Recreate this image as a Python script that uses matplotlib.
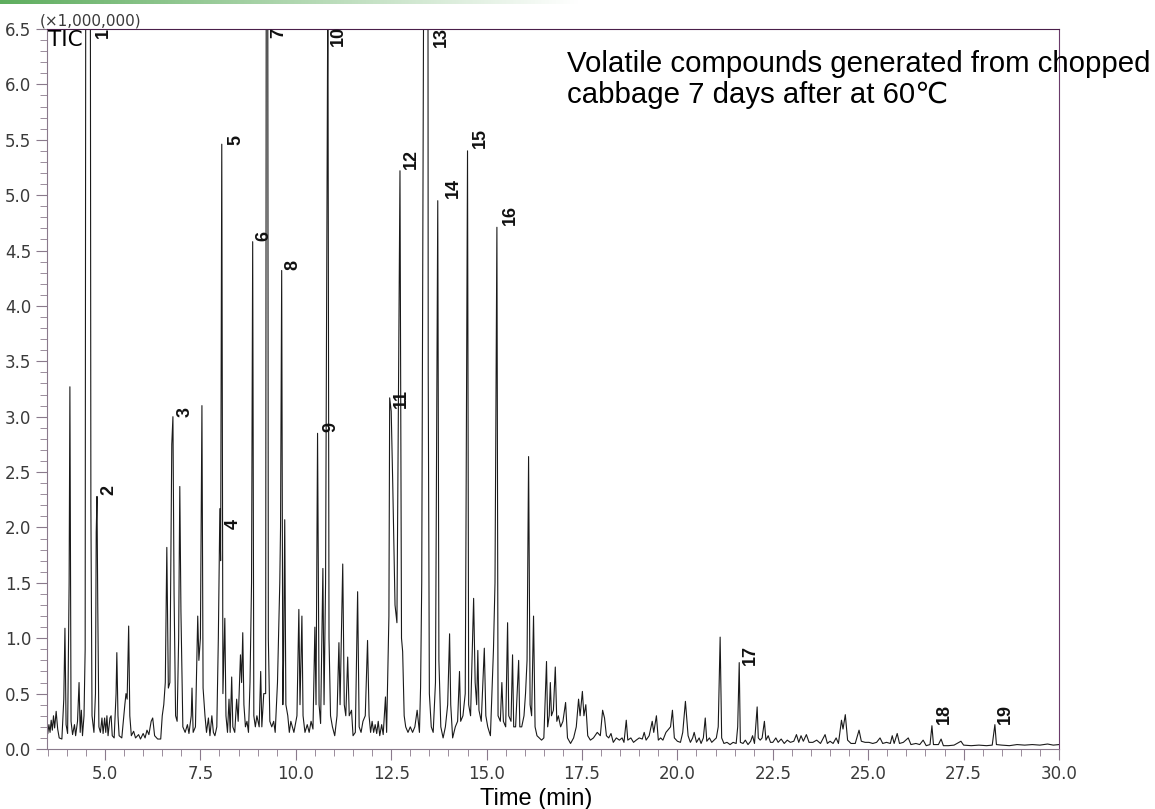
import numpy as np
import matplotlib
matplotlib.use("Agg")
import matplotlib.pyplot as plt
from matplotlib.ticker import MultipleLocator

# TIC trace: retention time (min) and intensity (x1,000,000)
trace_time = [
    3.50, 3.53, 3.56, 3.59, 3.62, 3.65, 3.68, 3.72, 3.76, 3.80, 3.87, 3.92, 3.95, 3.98,
    4.02, 4.06, 4.08, 4.11, 4.15, 4.20, 4.23, 4.28, 4.32, 4.35, 4.38, 4.41, 4.45, 4.48,
    4.50, 4.61, 4.63, 4.66, 4.71, 4.75, 4.77, 4.79, 4.81, 4.84, 4.88, 4.92, 4.95, 4.99,
    5.02, 5.05, 5.08, 5.13, 5.16, 5.19, 5.24, 5.29, 5.31, 5.34, 5.37, 5.44, 5.52, 5.55,
    5.58, 5.62, 5.65, 5.69, 5.75, 5.80, 5.88, 5.93, 6.00, 6.05, 6.10, 6.15, 6.21, 6.25,
    6.30, 6.38, 6.46, 6.50, 6.54, 6.58, 6.62, 6.66, 6.70, 6.75, 6.78, 6.81, 6.85, 6.89,
    6.93, 6.96, 6.99, 7.04, 7.10, 7.16, 7.20, 7.26, 7.28, 7.31, 7.37, 7.41, 7.43, 7.46,
    7.50, 7.54, 7.57, 7.62, 7.66, 7.71, 7.75, 7.80, 7.84, 7.88, 7.93, 7.97, 8.01, 8.03,
    8.06, 8.09, 8.14, 8.17, 8.21, 8.25, 8.28, 8.32, 8.35, 8.40, 8.45, 8.49, 8.55, 8.58,
    8.61, 8.64, 8.68, 8.72, 8.76, 8.80, 8.84, 8.87, 8.90, 8.94, 8.98, 9.04, 9.08, 9.11,
    9.16, 9.21, 9.23, 9.26, 9.28, 9.32, 9.37, 9.42, 9.46, 9.52, 9.58, 9.60, 9.63, 9.66,
    9.68, 9.71, 9.74, 9.79, 9.83, 9.87, 9.91, 9.95, 10.03, 10.08, 10.11, 10.16, 10.19, 10.24,
    10.30, 10.35, 10.40, 10.45, 10.50, 10.53, 10.57, 10.61, 10.65, 10.71, 10.74, 10.78, 10.84, 10.87,
    10.91, 10.96, 11.02, 11.08, 11.13, 11.16, 11.23, 11.27, 11.31, 11.36, 11.40, 11.46, 11.50, 11.56,
    11.62, 11.66, 11.71, 11.76, 11.82, 11.88, 11.92, 11.96, 12.00, 12.04, 12.08, 12.12, 12.16, 12.20,
    12.25, 12.29, 12.35, 12.38, 12.44, 12.46, 12.50, 12.54, 12.60, 12.65, 12.73, 12.77, 12.80, 12.84,
    12.88, 12.94, 13.00, 13.06, 13.12, 13.18, 13.24, 13.27, 13.30, 13.33, 13.37, 13.46, 13.47, 13.50,
    13.55, 13.60, 13.66, 13.72, 13.75, 13.80, 13.86, 13.92, 13.98, 14.03, 14.06, 14.11, 14.18, 14.24,
    14.29, 14.32, 14.38, 14.44, 14.46, 14.50, 14.53, 14.58, 14.66, 14.70, 14.74, 14.77, 14.80, 14.86,
    14.94, 14.98, 15.03, 15.10, 15.18, 15.22, 15.27, 15.30, 15.36, 15.40, 15.44, 15.50, 15.55, 15.58,
    15.64, 15.68, 15.71, 15.76, 15.84, 15.87, 15.92, 15.98, 16.02, 16.06, 16.10, 16.14, 16.18, 16.23,
    16.27, 16.32, 16.38, 16.44, 16.50, 16.57, 16.60, 16.64, 16.67, 16.70, 16.75, 16.80, 16.84, 16.88,
    16.94, 17.00, 17.07, 17.12, 17.20, 17.28, 17.35, 17.41, 17.45, 17.51, 17.55, 17.60, 17.65, 17.72,
    17.80, 17.90, 17.98, 18.04, 18.09, 18.14, 18.20, 18.26, 18.32, 18.40, 18.48, 18.55, 18.60, 18.66,
    18.70, 18.78, 18.85, 18.92, 19.00, 19.08, 19.13, 19.18, 19.26, 19.34, 19.38, 19.45, 19.50, 19.56,
    19.62, 19.70, 19.82, 19.87, 19.92, 20.00, 20.08, 20.14, 20.21, 20.24, 20.28, 20.34, 20.40, 20.44,
    20.50, 20.57, 20.62, 20.68, 20.73, 20.77, 20.84, 20.90, 20.96, 21.02, 21.07, 21.12, 21.16, 21.22,
    21.30, 21.38, 21.46, 21.54, 21.58, 21.62, 21.65, 21.72, 21.78, 21.85, 21.92, 21.97, 22.02, 22.09,
    22.12, 22.17, 22.22, 22.28, 22.32, 22.38, 22.44, 22.50, 22.58, 22.64, 22.72, 22.80, 22.88, 22.96,
    23.05, 23.12, 23.18, 23.24, 23.30, 23.38, 23.45, 23.55, 23.65, 23.75, 23.87, 23.93, 24.00, 24.08,
    24.16, 24.22, 24.30, 24.34, 24.40, 24.46, 24.55, 24.66, 24.76, 24.82, 24.92, 25.02, 25.12, 25.22,
    25.31, 25.38, 25.48, 25.58, 25.63, 25.68, 25.76, 25.82, 25.92, 26.05, 26.12, 26.25, 26.35, 26.44,
    26.52, 26.62, 26.67, 26.71, 26.84, 26.91, 26.97, 27.10, 27.25, 27.43, 27.50, 27.70, 27.90, 28.10,
    28.25, 28.32, 28.36, 28.50, 28.70, 28.90, 29.10, 29.30, 29.50, 29.70, 29.85, 30.00,
]
trace_signal = [
    0.14, 0.22, 0.15, 0.26, 0.17, 0.30, 0.19, 0.34, 0.18, 0.10, 0.09, 0.45, 1.09, 0.22,
    0.14, 1.50, 3.27, 0.25, 0.13, 0.22, 0.12, 0.25, 0.60, 0.15, 0.35, 0.12, 0.30, 0.90,
    9.00, 9.00, 2.20, 0.30, 0.15, 0.50, 1.96, 2.28, 1.30, 0.20, 0.15, 0.28, 0.14, 0.28,
    0.15, 0.30, 0.12, 0.28, 0.30, 0.12, 0.10, 0.50, 0.87, 0.30, 0.12, 0.10, 0.40, 0.50,
    0.45, 1.11, 0.30, 0.12, 0.16, 0.10, 0.13, 0.09, 0.14, 0.10, 0.17, 0.13, 0.25, 0.28,
    0.12, 0.09, 0.09, 0.30, 0.40, 0.60, 1.82, 0.55, 0.60, 2.75, 3.00, 1.40, 0.30, 0.25,
    1.00, 2.37, 1.24, 0.20, 0.15, 0.22, 0.14, 0.30, 0.55, 0.15, 0.20, 0.90, 1.20, 0.80,
    1.00, 3.10, 0.55, 0.30, 0.15, 0.28, 0.12, 0.30, 0.15, 0.12, 0.20, 1.00, 2.17, 1.70,
    5.46, 0.50, 1.18, 0.30, 0.15, 0.45, 0.15, 0.65, 0.20, 0.15, 0.45, 0.25, 0.85, 0.60,
    1.05, 0.40, 0.20, 0.25, 0.15, 0.60, 1.50, 4.58, 0.30, 0.20, 0.30, 0.20, 0.70, 0.20,
    0.50, 0.50, 9.00, 9.00, 1.00, 0.25, 0.20, 0.25, 0.15, 0.60, 1.50, 2.00, 4.32, 0.40,
    0.80, 2.07, 0.40, 0.30, 0.15, 0.25, 0.20, 0.15, 0.30, 1.26, 0.40, 1.20, 0.30, 0.15,
    0.22, 0.15, 0.25, 0.18, 1.10, 0.40, 2.85, 0.40, 0.23, 1.63, 0.40, 1.50, 7.00, 1.00,
    0.30, 0.20, 0.12, 0.30, 0.96, 0.40, 1.67, 0.40, 0.30, 0.83, 0.30, 0.35, 0.12, 0.15,
    1.42, 0.20, 0.15, 0.25, 0.30, 0.98, 0.30, 0.15, 0.25, 0.15, 0.22, 0.14, 0.25, 0.12,
    0.22, 0.13, 0.47, 0.15, 1.20, 3.17, 3.05, 2.40, 1.30, 1.14, 5.22, 1.00, 0.88, 0.30,
    0.20, 0.15, 0.20, 0.15, 0.20, 0.35, 0.15, 0.56, 1.50, 4.80, 9.00, 9.00, 3.40, 0.50,
    0.20, 0.15, 0.60, 4.95, 0.80, 0.20, 0.10, 0.20, 0.40, 1.04, 0.40, 0.10, 0.20, 0.25,
    0.70, 0.25, 0.30, 0.50, 2.00, 5.40, 0.40, 0.30, 1.36, 0.60, 0.40, 0.89, 0.35, 0.25,
    0.91, 0.30, 0.20, 0.12, 0.90, 1.50, 4.71, 0.30, 0.25, 0.60, 0.25, 0.20, 1.14, 0.30,
    0.25, 0.85, 0.20, 0.20, 0.80, 0.20, 0.20, 0.30, 0.50, 0.80, 2.64, 0.40, 0.30, 1.20,
    0.20, 0.12, 0.10, 0.08, 0.10, 0.79, 0.20, 0.30, 0.60, 0.30, 0.35, 0.74, 0.25, 0.30,
    0.20, 0.25, 0.42, 0.10, 0.05, 0.10, 0.20, 0.45, 0.30, 0.52, 0.30, 0.40, 0.12, 0.08,
    0.10, 0.15, 0.12, 0.35, 0.28, 0.12, 0.10, 0.14, 0.06, 0.10, 0.08, 0.10, 0.06, 0.26,
    0.08, 0.10, 0.06, 0.08, 0.10, 0.09, 0.15, 0.08, 0.12, 0.25, 0.15, 0.30, 0.08, 0.10,
    0.08, 0.15, 0.20, 0.35, 0.10, 0.07, 0.06, 0.15, 0.43, 0.30, 0.12, 0.06, 0.10, 0.15,
    0.06, 0.10, 0.05, 0.10, 0.28, 0.07, 0.10, 0.06, 0.08, 0.10, 0.20, 1.01, 0.10, 0.05,
    0.06, 0.04, 0.06, 0.05, 0.20, 0.78, 0.06, 0.05, 0.08, 0.04, 0.07, 0.12, 0.05, 0.38,
    0.10, 0.08, 0.10, 0.25, 0.08, 0.12, 0.06, 0.06, 0.10, 0.06, 0.09, 0.05, 0.08, 0.06,
    0.07, 0.13, 0.06, 0.12, 0.07, 0.13, 0.06, 0.06, 0.08, 0.05, 0.13, 0.05, 0.07, 0.05,
    0.10, 0.05, 0.26, 0.18, 0.31, 0.08, 0.05, 0.05, 0.17, 0.07, 0.06, 0.06, 0.05, 0.06,
    0.10, 0.05, 0.06, 0.05, 0.12, 0.05, 0.14, 0.05, 0.06, 0.10, 0.04, 0.05, 0.04, 0.08,
    0.03, 0.04, 0.21, 0.04, 0.04, 0.09, 0.03, 0.03, 0.035, 0.07, 0.035, 0.03, 0.035, 0.03,
    0.035, 0.22, 0.04, 0.035, 0.03, 0.04, 0.035, 0.04, 0.035, 0.045, 0.035, 0.04,
]

# numbered peaks and where their labels sit
peak_labels = [str(i) for i in range(1, 20)]
label_time = [4.74, 4.87, 6.88, 8.14, 8.22, 8.95, 9.32, 9.71, 10.70, 10.89,
              12.54, 12.80, 13.58, 13.90, 14.61, 15.39, 21.70, 26.78, 28.38]
label_signal = [6.42, 2.29, 3.00, 1.99, 5.45, 4.59, 6.42, 4.32, 2.86, 6.35,
                3.08, 5.24, 6.34, 4.97, 5.43, 4.73, 0.76, 0.23, 0.23]

W, H = 1155, 809
fig = plt.figure(figsize=(W / 100, H / 100), dpi=100)

# green gradient strip along the top edge
band = fig.add_axes([0, 1 - 4 / H, 1, 4 / H])
frac = np.clip(np.linspace(0, 1, 600) / 0.5, 0, 1)[None, :, None]
green = np.array([0.37, 0.68, 0.37])
band.imshow(green * (1 - frac) + frac, aspect="auto", extent=(0, 1, 0, 1))
band.axis("off")

ax = fig.add_axes([47 / W, 60 / H, 1012 / W, 720 / H])
ax.plot(trace_time, trace_signal, color="#1a1a1a", lw=0.8)
ax.set_xlim(3.48, 30.0)
ax.set_ylim(0, 6.5)

ax.xaxis.set_major_locator(MultipleLocator(2.5))
ax.xaxis.set_minor_locator(MultipleLocator(0.5))
ax.yaxis.set_major_locator(MultipleLocator(0.5))
ax.yaxis.set_minor_locator(MultipleLocator(0.1))
ax.xaxis.set_major_formatter(lambda v, p: f"{v:.1f}")
ax.yaxis.set_major_formatter(lambda v, p: f"{v:.1f}")

narrow = ["Liberation Sans Narrow", "DejaVu Sans"]
axis_col = "#8a7a8c"
ax.spines["left"].set_color(axis_col)
ax.spines["bottom"].set_color(axis_col)
ax.spines["top"].set_color("#4a1f4a")
ax.spines["right"].set_color("#6a3a6a")
ax.tick_params(which="major", length=8, color=axis_col, labelcolor="#3a3a3a",
               labelsize=12, direction="out")
ax.tick_params(which="minor", length=5, color=axis_col, direction="out")
for lab in ax.get_xticklabels() + ax.get_yticklabels():
    lab.set_family(narrow)

for lab, t, s in zip(peak_labels, label_time, label_signal):
    ax.text(t, s, lab, rotation=90, ha="left", va="bottom", fontsize=13,
            fontweight="bold", family="Liberation Sans", color="#111111", clip_on=True)

ax.text(0.001, 0.999, "TIC", transform=ax.transAxes, ha="left", va="top",
        fontsize=15.5, family=narrow, color="black")
fig.text(40 / W, 1 - 28 / H, "(\u00d71,000,000)", ha="left", va="bottom",
         fontsize=11, family=narrow, color="#3a3a3a")

fig.text(567 / W, 1 - 103 / H, "Volatile compounds generated from chopped\ncabbage 7 days after at 60\u2103",
         ha="left", va="baseline", fontsize=21.2, family=["Liberation Sans", "DejaVu Sans"],
         linespacing=1.12)

fig.text(536 / W, 1 - 805 / H, "Time (min)", ha="center", va="baseline",
         fontsize=17, family="Liberation Sans")

fig.savefig("out.png", dpi=100)
